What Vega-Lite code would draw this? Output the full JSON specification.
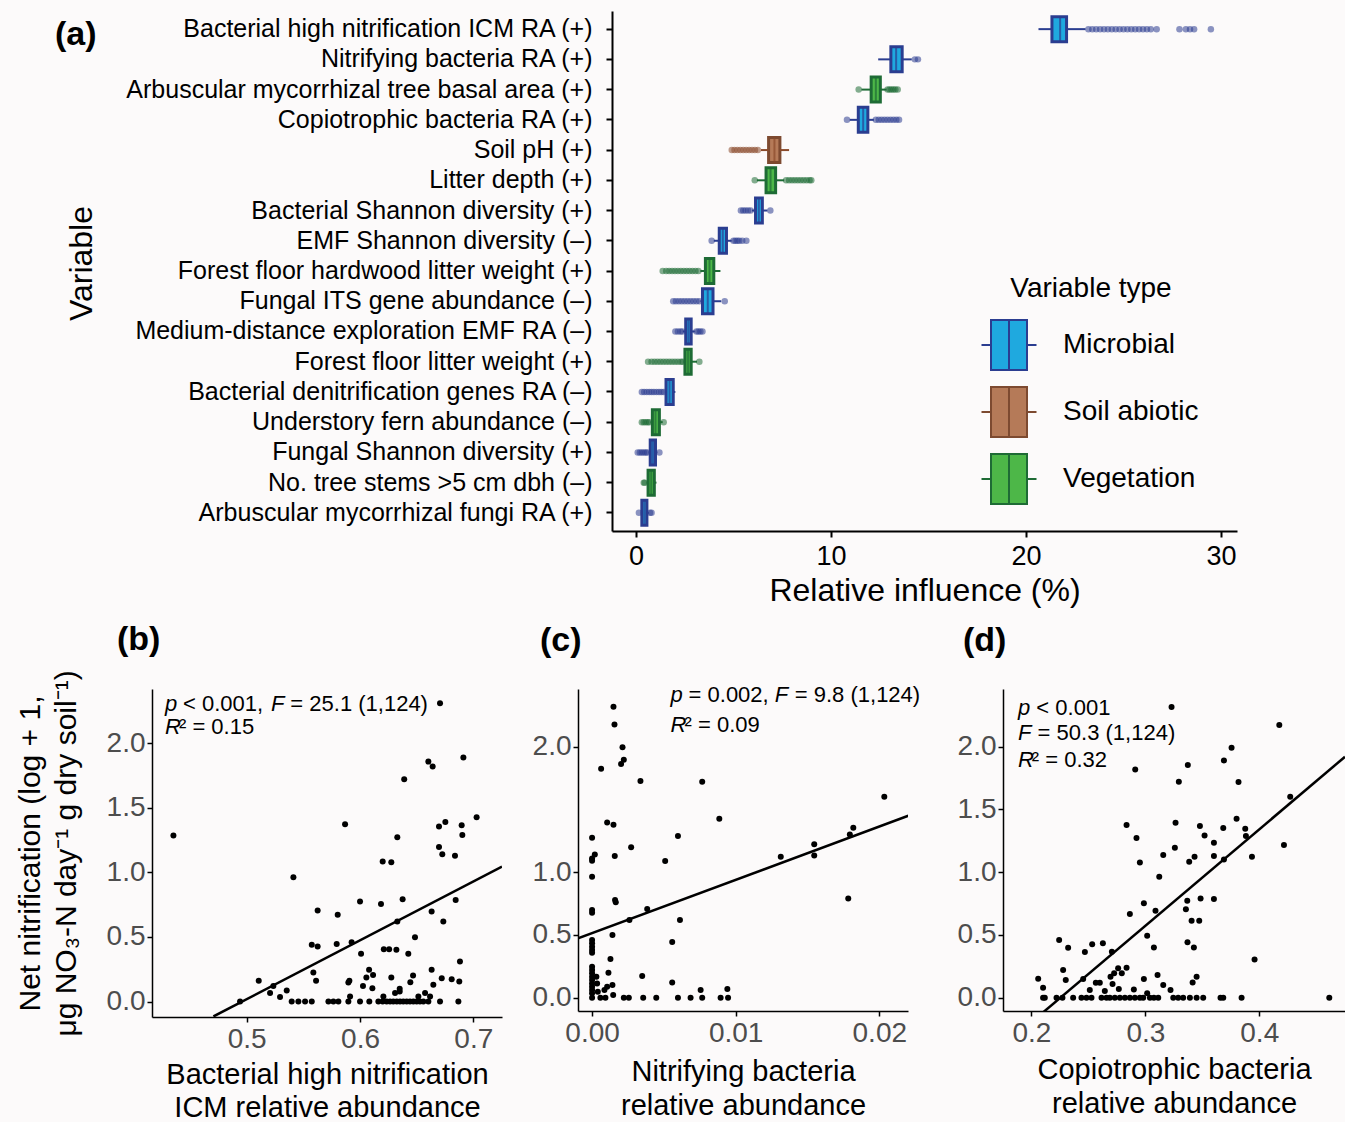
{
  "$schema": "https://vega.github.io/schema/vega-lite/v6.json",
  "background": "#fcfafa",
  "padding": {"left": 15, "top": 11, "right": 0, "bottom": 0},
  "bounds": "flush",
  "spacing": 678,
  "resolve": {"scale": {"fill": "independent", "stroke": "independent", "color": "independent"}, "legend": {"fill": "independent", "stroke": "independent", "color": "independent"}},
  "config": {
    "font": "Liberation Sans",
    "view": {"stroke": null},
    "axis": {"grid": false, "domainColor": "black", "tickColor": "black", "titleFontWeight": "normal", "titleColor": "black"},
    "legend": {"padding": 0}
  },
  "datasets": {
    "boxes": [
      {"k": 1, "var": "Bacterial high nitrification ICM RA (+)", "type": "Microbial", "lo": 20.64, "q1": 21.33, "med": 21.75, "q3": 22.08, "hi": 23.05},
      {"k": 2, "var": "Nitrifying bacteria RA (+)", "type": "Microbial", "lo": 12.42, "q1": 13.07, "med": 13.34, "q3": 13.65, "hi": 14.14},
      {"k": 3, "var": "Arbuscular mycorrhizal tree basal area (+)", "type": "Vegetation", "lo": 11.56, "q1": 12.06, "med": 12.3, "q3": 12.53, "hi": 12.85},
      {"k": 4, "var": "Copiotrophic bacteria RA (+)", "type": "Microbial", "lo": 10.96, "q1": 11.4, "med": 11.65, "q3": 11.89, "hi": 12.2},
      {"k": 5, "var": "Soil pH (+)", "type": "Soil abiotic", "lo": 6.41, "q1": 6.8, "med": 7.1, "q3": 7.38, "hi": 7.85},
      {"k": 6, "var": "Litter depth (+)", "type": "Vegetation", "lo": 6.2, "q1": 6.67, "med": 6.9, "q3": 7.16, "hi": 7.6},
      {"k": 7, "var": "Bacterial Shannon diversity (+)", "type": "Microbial", "lo": 5.95, "q1": 6.13, "med": 6.3, "q3": 6.48, "hi": 6.74},
      {"k": 8, "var": "EMF Shannon diversity (–)", "type": "Microbial", "lo": 3.99, "q1": 4.27, "med": 4.45, "q3": 4.64, "hi": 4.91},
      {"k": 9, "var": "Forest floor hardwood litter weight (+)", "type": "Vegetation", "lo": 3.3, "q1": 3.56, "med": 3.77, "q3": 3.99, "hi": 4.33},
      {"k": 10, "var": "Fungal ITS gene abundance (–)", "type": "Microbial", "lo": 3.3, "q1": 3.41, "med": 3.68, "q3": 3.95, "hi": 4.37},
      {"k": 11, "var": "Medium-distance exploration EMF RA (–)", "type": "Microbial", "lo": 2.4, "q1": 2.55, "med": 2.69, "q3": 2.83, "hi": 3.02},
      {"k": 12, "var": "Forest floor litter weight (+)", "type": "Vegetation", "lo": 2.45, "q1": 2.51, "med": 2.67, "q3": 2.83, "hi": 3.13},
      {"k": 13, "var": "Bacterial denitrification genes RA (–)", "type": "Microbial", "lo": 1.5, "q1": 1.54, "med": 1.72, "q3": 1.91, "hi": 2.02},
      {"k": 14, "var": "Understory fern abundance (–)", "type": "Vegetation", "lo": 0.75, "q1": 0.84, "med": 1.0, "q3": 1.2, "hi": 1.37},
      {"k": 15, "var": "Fungal Shannon diversity (+)", "type": "Microbial", "lo": 0.65, "q1": 0.73, "med": 0.87, "q3": 1.0, "hi": 1.1},
      {"k": 16, "var": "No. tree stems >5 cm dbh (–)", "type": "Vegetation", "lo": 0.55, "q1": 0.62, "med": 0.78, "q3": 0.94, "hi": 1.05},
      {"k": 17, "var": "Arbuscular mycorrhizal fungi RA (+)", "type": "Microbial", "lo": 0.25, "q1": 0.3, "med": 0.43, "q3": 0.56, "hi": 0.65}
    ],
    "outliers": [
      {"k": 1, "v": 23.2}, {"k": 1, "v": 23.4}, {"k": 1, "v": 23.6}, {"k": 1, "v": 23.8}, {"k": 1, "v": 24.0}, {"k": 1, "v": 24.2}, {"k": 1, "v": 24.4}, {"k": 1, "v": 24.6}, {"k": 1, "v": 24.8}, {"k": 1, "v": 25.0}, {"k": 1, "v": 25.2}, {"k": 1, "v": 25.4}, {"k": 1, "v": 25.6}, {"k": 1, "v": 25.8}, {"k": 1, "v": 26.0}, {"k": 1, "v": 26.2}, {"k": 1, "v": 26.4}, {"k": 1, "v": 26.7}, {"k": 1, "v": 27.87}, {"k": 1, "v": 28.2}, {"k": 1, "v": 28.41}, {"k": 1, "v": 28.62}, {"k": 1, "v": 29.48},
      {"k": 2, "v": 14.3}, {"k": 2, "v": 14.46},
      {"k": 3, "v": 11.42}, {"k": 3, "v": 12.9}, {"k": 3, "v": 13.0}, {"k": 3, "v": 13.1}, {"k": 3, "v": 13.2}, {"k": 3, "v": 13.3}, {"k": 3, "v": 13.42},
      {"k": 4, "v": 10.82}, {"k": 4, "v": 12.3}, {"k": 4, "v": 12.45}, {"k": 4, "v": 12.6}, {"k": 4, "v": 12.75}, {"k": 4, "v": 12.9}, {"k": 4, "v": 13.05}, {"k": 4, "v": 13.2}, {"k": 4, "v": 13.35}, {"k": 4, "v": 13.49},
      {"k": 5, "v": 4.91}, {"k": 5, "v": 5.05}, {"k": 5, "v": 5.2}, {"k": 5, "v": 5.35}, {"k": 5, "v": 5.5}, {"k": 5, "v": 5.65}, {"k": 5, "v": 5.8}, {"k": 5, "v": 5.95}, {"k": 5, "v": 6.1}, {"k": 5, "v": 6.25},
      {"k": 6, "v": 6.09}, {"k": 6, "v": 7.7}, {"k": 6, "v": 7.85}, {"k": 6, "v": 8.0}, {"k": 6, "v": 8.15}, {"k": 6, "v": 8.3}, {"k": 6, "v": 8.45}, {"k": 6, "v": 8.6}, {"k": 6, "v": 8.75}, {"k": 6, "v": 8.9}, {"k": 6, "v": 8.99},
      {"k": 7, "v": 5.38}, {"k": 7, "v": 5.5}, {"k": 7, "v": 5.62}, {"k": 7, "v": 5.75}, {"k": 7, "v": 5.88}, {"k": 7, "v": 6.89},
      {"k": 8, "v": 3.88}, {"k": 8, "v": 5.0}, {"k": 8, "v": 5.1}, {"k": 8, "v": 5.2}, {"k": 8, "v": 5.3}, {"k": 8, "v": 5.45}, {"k": 8, "v": 5.66},
      {"k": 9, "v": 1.37}, {"k": 9, "v": 1.55}, {"k": 9, "v": 1.7}, {"k": 9, "v": 1.85}, {"k": 9, "v": 2.0}, {"k": 9, "v": 2.15}, {"k": 9, "v": 2.3}, {"k": 9, "v": 2.45}, {"k": 9, "v": 2.6}, {"k": 9, "v": 2.75}, {"k": 9, "v": 2.9}, {"k": 9, "v": 3.05}, {"k": 9, "v": 3.2},
      {"k": 10, "v": 1.91}, {"k": 10, "v": 2.05}, {"k": 10, "v": 2.2}, {"k": 10, "v": 2.35}, {"k": 10, "v": 2.5}, {"k": 10, "v": 2.65}, {"k": 10, "v": 2.8}, {"k": 10, "v": 2.95}, {"k": 10, "v": 3.1}, {"k": 10, "v": 3.25}, {"k": 10, "v": 4.55},
      {"k": 11, "v": 2.02}, {"k": 11, "v": 2.15}, {"k": 11, "v": 2.28}, {"k": 11, "v": 2.38}, {"k": 11, "v": 3.1}, {"k": 11, "v": 3.2}, {"k": 11, "v": 3.3}, {"k": 11, "v": 3.41},
      {"k": 12, "v": 0.62}, {"k": 12, "v": 0.8}, {"k": 12, "v": 0.95}, {"k": 12, "v": 1.1}, {"k": 12, "v": 1.25}, {"k": 12, "v": 1.4}, {"k": 12, "v": 1.55}, {"k": 12, "v": 1.7}, {"k": 12, "v": 1.85}, {"k": 12, "v": 2.0}, {"k": 12, "v": 2.15}, {"k": 12, "v": 2.3}, {"k": 12, "v": 2.4}, {"k": 12, "v": 3.25},
      {"k": 13, "v": 0.3}, {"k": 13, "v": 0.42}, {"k": 13, "v": 0.55}, {"k": 13, "v": 0.68}, {"k": 13, "v": 0.8}, {"k": 13, "v": 0.92}, {"k": 13, "v": 1.05}, {"k": 13, "v": 1.18}, {"k": 13, "v": 1.3}, {"k": 13, "v": 1.42},
      {"k": 14, "v": 0.3}, {"k": 14, "v": 0.4}, {"k": 14, "v": 0.5}, {"k": 14, "v": 0.6}, {"k": 14, "v": 0.68}, {"k": 14, "v": 1.42},
      {"k": 15, "v": 0.09}, {"k": 15, "v": 0.2}, {"k": 15, "v": 0.3}, {"k": 15, "v": 0.4}, {"k": 15, "v": 0.5}, {"k": 15, "v": 0.58}, {"k": 15, "v": 1.2},
      {"k": 16, "v": 0.4}, {"k": 16, "v": 0.45},
      {"k": 17, "v": 0.15}, {"k": 17, "v": 0.72}, {"k": 17, "v": 0.8}
    ],
    "ptsB": [
      {"x": 0.4353, "y": 1.285}, {"x": 0.6706, "y": 2.31}, {"x": 0.6912, "y": 1.89}, {"x": 0.6603, "y": 1.858}, {"x": 0.6641, "y": 1.819}, {"x": 0.639, "y": 1.721}, {"x": 0.5868, "y": 1.373}, {"x": 0.6753, "y": 1.391}, {"x": 0.6697, "y": 1.355}, {"x": 0.6897, "y": 1.365}, {"x": 0.7029, "y": 1.427}, {"x": 0.6903, "y": 1.29}, {"x": 0.6329, "y": 1.272}, {"x": 0.6697, "y": 1.197}, {"x": 0.6726, "y": 1.141}, {"x": 0.6838, "y": 1.128}, {"x": 0.62, "y": 1.084}, {"x": 0.6276, "y": 1.079}, {"x": 0.5412, "y": 0.963}, {"x": 0.5626, "y": 0.705}, {"x": 0.5803, "y": 0.671}, {"x": 0.6, "y": 0.774}, {"x": 0.6185, "y": 0.756}, {"x": 0.6376, "y": 0.792}, {"x": 0.6632, "y": 0.697}, {"x": 0.6844, "y": 0.787}, {"x": 0.6735, "y": 0.619}, {"x": 0.6329, "y": 0.619}, {"x": 0.5574, "y": 0.439}, {"x": 0.5626, "y": 0.426}, {"x": 0.5794, "y": 0.446}, {"x": 0.5926, "y": 0.459}, {"x": 0.6009, "y": 0.369}, {"x": 0.621, "y": 0.405}, {"x": 0.6257, "y": 0.405}, {"x": 0.6321, "y": 0.4}, {"x": 0.6485, "y": 0.498}, {"x": 0.6426, "y": 0.369}, {"x": 0.6882, "y": 0.31}, {"x": 0.5588, "y": 0.225}, {"x": 0.5612, "y": 0.16}, {"x": 0.5906, "y": 0.16}, {"x": 0.5897, "y": 0.147}, {"x": 0.608, "y": 0.245}, {"x": 0.6056, "y": 0.186}, {"x": 0.6115, "y": 0.206}, {"x": 0.6026, "y": 0.121}, {"x": 0.6109, "y": 0.103}, {"x": 0.6276, "y": 0.186}, {"x": 0.635, "y": 0.098}, {"x": 0.6468, "y": 0.201}, {"x": 0.6444, "y": 0.15}, {"x": 0.6632, "y": 0.245}, {"x": 0.6721, "y": 0.181}, {"x": 0.6809, "y": 0.173}, {"x": 0.6876, "y": 0.155}, {"x": 0.6647, "y": 0.129}, {"x": 0.6574, "y": 0.065}, {"x": 0.5106, "y": 0.16}, {"x": 0.5206, "y": 0.065}, {"x": 0.5235, "y": 0.121}, {"x": 0.5294, "y": 0.034}, {"x": 0.5353, "y": 0.085}, {"x": 0.4941, "y": 0}, {"x": 0.5912, "y": 0.039}, {"x": 0.6206, "y": 0.039}, {"x": 0.6309, "y": 0.065}, {"x": 0.635, "y": 0.077}, {"x": 0.6515, "y": 0.039}, {"x": 0.6618, "y": 0.039},
      {"x": 0.5397, "y": 0}, {"x": 0.5456, "y": 0}, {"x": 0.5515, "y": 0}, {"x": 0.5574, "y": 0}, {"x": 0.5721, "y": 0}, {"x": 0.5765, "y": 0}, {"x": 0.5809, "y": 0}, {"x": 0.5897, "y": 0}, {"x": 0.6, "y": 0}, {"x": 0.6082, "y": 0}, {"x": 0.6162, "y": 0}, {"x": 0.62, "y": 0}, {"x": 0.6235, "y": 0}, {"x": 0.6265, "y": 0}, {"x": 0.6294, "y": 0}, {"x": 0.6324, "y": 0}, {"x": 0.6353, "y": 0}, {"x": 0.6382, "y": 0}, {"x": 0.6412, "y": 0}, {"x": 0.6441, "y": 0}, {"x": 0.6471, "y": 0}, {"x": 0.65, "y": 0}, {"x": 0.6529, "y": 0}, {"x": 0.6559, "y": 0}, {"x": 0.6603, "y": 0}, {"x": 0.6706, "y": 0}, {"x": 0.6868, "y": 0}
    ],
    "ptsC": [
      {"x": 0.00149, "y": 2.319}, {"x": 0.00156, "y": 2.178}, {"x": 0.00212, "y": 1.995}, {"x": 0.00221, "y": 1.896}, {"x": 0.00202, "y": 1.862}, {"x": 0.00063, "y": 1.825}, {"x": 0.00337, "y": 1.726}, {"x": 0.00767, "y": 1.721}, {"x": 0.02035, "y": 1.602}, {"x": 0.00886, "y": 1.426}, {"x": 0.00105, "y": 1.397}, {"x": 0.00149, "y": 1.378}, {"x": 0.01819, "y": 1.355}, {"x": 0.01795, "y": 1.301}, {"x": 0.00598, "y": 1.288}, {"x": 0.0, "y": 1.275}, {"x": 0.00272, "y": 1.198}, {"x": 0.01547, "y": 1.222}, {"x": 0.01547, "y": 1.134}, {"x": 0.00019, "y": 1.142}, {"x": 0.0, "y": 1.11}, {"x": 0.0, "y": 1.092}, {"x": 0.00158, "y": 1.129}, {"x": 0.00509, "y": 1.089}, {"x": 0.01314, "y": 1.124}, {"x": 0.0, "y": 0.964}, {"x": 0.01784, "y": 0.791}, {"x": 0.0016, "y": 0.778}, {"x": 0.00165, "y": 0.76}, {"x": 0.0, "y": 0.699}, {"x": 0.0, "y": 0.677}, {"x": 0.00384, "y": 0.706}, {"x": 0.0026, "y": 0.619}, {"x": 0.00612, "y": 0.619}, {"x": 0.00142, "y": 0.499}, {"x": 0.00558, "y": 0.444},
      {"x": 0.0, "y": 0.459}, {"x": 0.0, "y": 0.433}, {"x": 0.0, "y": 0.406}, {"x": 0.0, "y": 0.38}, {"x": 0.0, "y": 0.359}, {"x": 0.00128, "y": 0.308}, {"x": 0.00114, "y": 0.199}, {"x": 0.00349, "y": 0.173}, {"x": 0.00558, "y": 0.122}, {"x": 0.00142, "y": 0.101}, {"x": 0.00756, "y": 0.061}, {"x": 0.00942, "y": 0.069},
      {"x": 0.0, "y": 0.247}, {"x": 0.0, "y": 0.22}, {"x": 0.0, "y": 0.194}, {"x": 0.0, "y": 0.167}, {"x": 0.0, "y": 0.141}, {"x": 0.0, "y": 0.114}, {"x": 0.0, "y": 0.088}, {"x": 0.0, "y": 0.061}, {"x": 0.0, "y": 0.035}, {"x": 0.0, "y": 0.0}, {"x": 0.0003, "y": 0.167}, {"x": 0.00035, "y": 0.114}, {"x": 0.0004, "y": 0.048}, {"x": 0.00086, "y": 0.061}, {"x": 0.00105, "y": 0.088}, {"x": 0.00147, "y": 0.021},
      {"x": 0.00058, "y": 0}, {"x": 0.00093, "y": 0}, {"x": 0.00221, "y": 0}, {"x": 0.00256, "y": 0}, {"x": 0.00356, "y": 0}, {"x": 0.00447, "y": 0}, {"x": 0.00598, "y": 0}, {"x": 0.00686, "y": 0}, {"x": 0.00767, "y": 0}, {"x": 0.00895, "y": 0}, {"x": 0.00947, "y": 0}
    ],
    "ptsD": [
      {"x": 0.323, "y": 2.316}, {"x": 0.4176, "y": 2.173}, {"x": 0.3757, "y": 1.992}, {"x": 0.369, "y": 1.891}, {"x": 0.3373, "y": 1.854}, {"x": 0.2911, "y": 1.819}, {"x": 0.3294, "y": 1.721}, {"x": 0.3818, "y": 1.718}, {"x": 0.4272, "y": 1.602}, {"x": 0.2835, "y": 1.376}, {"x": 0.3265, "y": 1.394}, {"x": 0.3479, "y": 1.368}, {"x": 0.3801, "y": 1.426}, {"x": 0.3684, "y": 1.352}, {"x": 0.3877, "y": 1.347}, {"x": 0.2922, "y": 1.272}, {"x": 0.352, "y": 1.293}, {"x": 0.3602, "y": 1.235}, {"x": 0.3883, "y": 1.288}, {"x": 0.4217, "y": 1.216}, {"x": 0.3259, "y": 1.195}, {"x": 0.3157, "y": 1.137}, {"x": 0.3432, "y": 1.124}, {"x": 0.3385, "y": 1.084}, {"x": 0.2952, "y": 1.078}, {"x": 0.3602, "y": 1.129}, {"x": 0.369, "y": 1.102}, {"x": 0.3936, "y": 1.124}, {"x": 0.3122, "y": 0.964}, {"x": 0.3602, "y": 0.786}, {"x": 0.2987, "y": 0.752}, {"x": 0.3368, "y": 0.773}, {"x": 0.3485, "y": 0.791}, {"x": 0.3089, "y": 0.693}, {"x": 0.3356, "y": 0.704}, {"x": 0.2864, "y": 0.667}, {"x": 0.3406, "y": 0.614}, {"x": 0.3473, "y": 0.614}, {"x": 0.3016, "y": 0.494}, {"x": 0.337, "y": 0.441}, {"x": 0.3075, "y": 0.401}, {"x": 0.3426, "y": 0.401}, {"x": 0.3959, "y": 0.305},
      {"x": 0.2243, "y": 0.459}, {"x": 0.2322, "y": 0.398}, {"x": 0.2469, "y": 0.364}, {"x": 0.2533, "y": 0.425}, {"x": 0.2627, "y": 0.433}, {"x": 0.2706, "y": 0.367}, {"x": 0.2059, "y": 0.151}, {"x": 0.2102, "y": 0.08}, {"x": 0.2278, "y": 0.22}, {"x": 0.2301, "y": 0.141}, {"x": 0.2454, "y": 0.149}, {"x": 0.2512, "y": 0.061}, {"x": 0.2565, "y": 0.12}, {"x": 0.26, "y": 0.12}, {"x": 0.2644, "y": 0.053}, {"x": 0.2694, "y": 0.167}, {"x": 0.2712, "y": 0.109}, {"x": 0.2726, "y": 0.194}, {"x": 0.2761, "y": 0.234}, {"x": 0.2793, "y": 0.194}, {"x": 0.2835, "y": 0.239}, {"x": 0.2767, "y": 0.069}, {"x": 0.2899, "y": 0.066}, {"x": 0.2987, "y": 0.149}, {"x": 0.3107, "y": 0.181}, {"x": 0.3157, "y": 0.101}, {"x": 0.3221, "y": 0.061}, {"x": 0.3415, "y": 0.122}, {"x": 0.345, "y": 0.167}, {"x": 0.3016, "y": 0.035},
      {"x": 0.2102, "y": 0}, {"x": 0.2117, "y": 0}, {"x": 0.222, "y": 0}, {"x": 0.2272, "y": 0}, {"x": 0.2366, "y": 0}, {"x": 0.2439, "y": 0}, {"x": 0.2483, "y": 0}, {"x": 0.2527, "y": 0}, {"x": 0.2615, "y": 0}, {"x": 0.2659, "y": 0}, {"x": 0.2688, "y": 0}, {"x": 0.2732, "y": 0}, {"x": 0.2776, "y": 0}, {"x": 0.282, "y": 0}, {"x": 0.2864, "y": 0}, {"x": 0.2908, "y": 0}, {"x": 0.2952, "y": 0}, {"x": 0.2981, "y": 0}, {"x": 0.304, "y": 0}, {"x": 0.3075, "y": 0}, {"x": 0.3113, "y": 0}, {"x": 0.3245, "y": 0}, {"x": 0.3288, "y": 0}, {"x": 0.3332, "y": 0}, {"x": 0.3391, "y": 0}, {"x": 0.345, "y": 0}, {"x": 0.3508, "y": 0}, {"x": 0.366, "y": 0}, {"x": 0.3684, "y": 0}, {"x": 0.3845, "y": 0}, {"x": 0.4615, "y": 0}
    ],
    "lines": [
      {"panel": "b", "x": 0.4706, "y": -0.116}, {"panel": "b", "x": 0.7253, "y": 1.045},
      {"panel": "c", "x": -0.00098, "y": 0.473}, {"panel": "c", "x": 0.02202, "y": 1.45},
      {"panel": "d", "x": 0.2102, "y": -0.117}, {"panel": "d", "x": 0.4753, "y": 1.92}
    ],
    "ann": [
      {"panel": "b", "part": "sym", "x": 0.4279, "y": 2.304, "t": "p"},
      {"panel": "b", "part": "val", "x": 0.4438, "y": 2.304, "t": "< 0.001,"},
      {"panel": "b", "part": "sym", "x": 0.5214, "y": 2.304, "t": "F"},
      {"panel": "b", "part": "val", "x": 0.5385, "y": 2.304, "t": "= 25.1 (1,124)"},
      {"panel": "b", "part": "sym", "x": 0.4279, "y": 2.128, "t": "R"},
      {"panel": "b", "part": "val", "x": 0.4402, "y": 2.128, "t": "² = 0.15"},
      {"panel": "c", "part": "sym", "x": 0.005464, "y": 2.412, "t": "p"},
      {"panel": "c", "part": "val", "x": 0.00672, "y": 2.412, "t": "= 0.002,"},
      {"panel": "c", "part": "sym", "x": 0.012722, "y": 2.412, "t": "F"},
      {"panel": "c", "part": "val", "x": 0.014117, "y": 2.412, "t": "= 9.8 (1,124)"},
      {"panel": "c", "part": "sym", "x": 0.005464, "y": 2.173, "t": "R"},
      {"panel": "c", "part": "val", "x": 0.006441, "y": 2.173, "t": "² = 0.09"},
      {"panel": "d", "part": "sym", "x": 0.18823, "y": 2.306, "t": "p"},
      {"panel": "d", "part": "val", "x": 0.2043, "y": 2.306, "t": "< 0.001"},
      {"panel": "d", "part": "sym", "x": 0.18823, "y": 2.107, "t": "F"},
      {"panel": "d", "part": "val", "x": 0.2054, "y": 2.107, "t": "= 50.3 (1,124)"},
      {"panel": "d", "part": "sym", "x": 0.18823, "y": 1.894, "t": "R"},
      {"panel": "d", "part": "val", "x": 0.2003, "y": 1.894, "t": "² = 0.32"}
    ]
  },
  "vconcat": [
    {
      "bounds": "flush",
      "spacing": 0,
      "resolve": {"scale": {"fill": "independent", "stroke": "independent", "color": "independent"}, "legend": {"fill": "independent", "stroke": "independent", "color": "independent"}},
      "hconcat": [
        {"width": 460, "height": 520, "data": {"values": [{"a": 0}]}, "mark": {"type": "text", "text": ""}, "encoding": {}},
        {
          "width": 625,
          "height": 520,
          "title": {"text": "(a)", "anchor": "start", "frame": "group", "orient": "top", "fontSize": 34, "fontWeight": "bold", "color": "black", "baseline": "alphabetic", "offset": 0, "dx": -557, "dy": 68},
          "layer": [
            {
              "data": {"name": "boxes"},
              "mark": {"type": "bar", "size": 25, "strokeWidth": 3},
              "encoding": {
                "y": {"field": "var", "type": "nominal", "title": "Variable",
                  "scale": {"domain": ["Bacterial high nitrification ICM RA (+)", "Nitrifying bacteria RA (+)", "Arbuscular mycorrhizal tree basal area (+)", "Copiotrophic bacteria RA (+)", "Soil pH (+)", "Litter depth (+)", "Bacterial Shannon diversity (+)", "EMF Shannon diversity (–)", "Forest floor hardwood litter weight (+)", "Fungal ITS gene abundance (–)", "Medium-distance exploration EMF RA (–)", "Forest floor litter weight (+)", "Bacterial denitrification genes RA (–)", "Understory fern abundance (–)", "Fungal Shannon diversity (+)", "No. tree stems >5 cm dbh (–)", "Arbuscular mycorrhizal fungi RA (+)"], "paddingInner": 0, "paddingOuter": 0.1},
                  "axis": {"labelFontSize": 25, "labelColor": "black", "labelPadding": 14, "labelLimit": 0, "tickSize": 6, "tickWidth": 2, "domainWidth": 2, "titleFontSize": 32, "titleX": -514, "titleY": 252}},
                "x": {"field": "q1", "type": "quantitative", "title": "Relative influence (%)",
                  "scale": {"domain": [-1.23, 30.82], "nice": false, "zero": false},
                  "axis": {"values": [0, 10, 20, 30], "labelFontSize": 27, "labelColor": "black", "labelPadding": 6, "tickSize": 6, "tickWidth": 2, "domainWidth": 2, "titleFontSize": 32, "titlePadding": 6}},
                "x2": {"field": "q3"},
                "fill": {"field": "type", "type": "nominal", "title": "Variable type",
                  "scale": {"domain": ["Microbial", "Soil abiotic", "Vegetation"], "range": ["#1fa9df", "#b57a58", "#4db748"]},
                  "legend": {"orient": "none", "legendX": 371, "legendY": 264, "symbolType": "M-0.72,-1H0.72V1H-0.72Z M0,-1V1 M-1.1,0H-0.72 M0.72,0H1.1", "symbolSize": 2500, "symbolStrokeWidth": 2, "labelFontSize": 28, "labelColor": "black", "labelOffset": 28, "titleFontSize": 28, "titleFontWeight": "normal", "titleColor": "black", "titleAnchor": "middle", "titlePadding": 16, "rowPadding": 9}},
                "stroke": {"field": "type", "type": "nominal", "title": "Variable type",
                  "scale": {"domain": ["Microbial", "Soil abiotic", "Vegetation"], "range": ["#2b3d90", "#7d4a30", "#1e6b35"]},
                  "legend": {"orient": "none", "legendX": 371, "legendY": 264, "symbolType": "M-0.72,-1H0.72V1H-0.72Z M0,-1V1 M-1.1,0H-0.72 M0.72,0H1.1", "symbolSize": 2500, "symbolStrokeWidth": 2, "labelFontSize": 28, "labelColor": "black", "labelOffset": 28, "titleFontSize": 28, "titleFontWeight": "normal", "titleColor": "black", "titleAnchor": "middle", "titlePadding": 16, "rowPadding": 9}}
              }
            },
            {
              "data": {"name": "boxes"},
              "mark": {"type": "rule", "strokeWidth": 2},
              "encoding": {
                "y": {"field": "var", "type": "nominal"},
                "x": {"field": "lo", "type": "quantitative"},
                "x2": {"field": "q1"},
                "color": {"field": "type", "type": "nominal", "legend": null, "scale": {"domain": ["Vegetation", "Soil abiotic", "Microbial"], "range": ["#1e6b35", "#8a4a2b", "#2b3d90"]}}
              }
            },
            {
              "data": {"name": "boxes"},
              "mark": {"type": "rule", "strokeWidth": 2},
              "encoding": {
                "y": {"field": "var", "type": "nominal"},
                "x": {"field": "q3", "type": "quantitative"},
                "x2": {"field": "hi"},
                "color": {"field": "type", "type": "nominal", "legend": null}
              }
            },
            {
              "data": {"name": "boxes"},
              "mark": {"type": "tick", "size": 25, "thickness": 2},
              "encoding": {
                "y": {"field": "var", "type": "nominal"},
                "x": {"field": "med", "type": "quantitative"},
                "color": {"field": "type", "type": "nominal", "legend": null}
              }
            },
            {
              "data": {"name": "outliers"},
              "transform": [{"lookup": "k", "from": {"data": {"name": "boxes"}, "key": "k", "fields": ["var", "type"]}}],
              "mark": {"type": "circle", "size": 42, "opacity": 0.55},
              "encoding": {
                "y": {"field": "var", "type": "nominal"},
                "x": {"field": "v", "type": "quantitative"},
                "color": {"field": "type", "type": "nominal", "legend": null}
              }
            }
          ]
        }
      ]
    },
    {
      "bounds": "flush",
      "spacing": 76,
      "hconcat": [
        {
          "width": 350,
          "height": 328,
          "title": {"text": "(b)", "anchor": "start", "frame": "group", "orient": "top", "fontSize": 34, "fontWeight": "bold", "color": "black", "baseline": "alphabetic", "offset": 0, "dx": -35, "dy": 14},
          "layer": [
            {
              "data": {"name": "ptsB"},
              "mark": {"type": "circle", "size": 36, "color": "black", "opacity": 1},
              "encoding": {
                "x": {"field": "x", "type": "quantitative", "scale": {"domain": [0.4164, 0.7253], "nice": false, "zero": false},
                  "axis": {"values": [0.5, 0.6, 0.7], "format": ".1f", "title": ["Bacterial high nitrification", "ICM relative abundance"], "labelFontSize": 28, "labelColor": "#4d4d4d", "labelPadding": 3, "tickSize": 5, "tickWidth": 1.5, "domainWidth": 1.5, "titleFontSize": 29, "titleLineHeight": 33, "titlePadding": 7}},
                "y": {"field": "y", "type": "quantitative", "scale": {"domain": [-0.12, 2.42], "nice": false, "zero": false},
                  "axis": {"values": [0, 0.5, 1, 1.5, 2], "format": ".1f", "title": ["Net nitrification (log + 1,", "μg NO₃-N day⁻¹ g dry soil⁻¹)"], "labelFontSize": 28, "labelColor": "#4d4d4d", "labelPadding": 2, "tickSize": 5, "tickWidth": 1.5, "domainWidth": 1.5, "titleFontSize": 30, "titleLineHeight": 36, "titlePadding": 25}}
              }
            },
            {
              "data": {"name": "lines"},
              "transform": [{"filter": "datum.panel === 'b'"}],
              "mark": {"type": "line", "color": "black", "strokeWidth": 2.5, "clip": true},
              "encoding": {"x": {"field": "x", "type": "quantitative"}, "y": {"field": "y", "type": "quantitative"}}
            },
            {
              "data": {"name": "ann"},
              "transform": [{"filter": "datum.panel === 'b' && datum.part === 'sym'"}],
              "mark": {"type": "text", "align": "left", "baseline": "middle", "fontSize": 22, "fontStyle": "italic", "color": "black"},
              "encoding": {"x": {"field": "x", "type": "quantitative"}, "y": {"field": "y", "type": "quantitative"}, "text": {"field": "t"}}
            },
            {
              "data": {"name": "ann"},
              "transform": [{"filter": "datum.panel === 'b' && datum.part === 'val'"}],
              "mark": {"type": "text", "align": "left", "baseline": "middle", "fontSize": 22, "color": "black"},
              "encoding": {"x": {"field": "x", "type": "quantitative"}, "y": {"field": "y", "type": "quantitative"}, "text": {"field": "t"}}
            }
          ]
        },
        {
          "bounds": "flush",
          "spacing": 95,
          "hconcat": [
            {
              "width": 330,
              "height": 322,
              "title": {"text": "(c)", "anchor": "start", "frame": "group", "orient": "top", "fontSize": 34, "fontWeight": "bold", "color": "black", "baseline": "alphabetic", "offset": 0, "dx": -38, "dy": 1},
              "layer": [
                {
                  "data": {"name": "ptsC"},
                  "mark": {"type": "circle", "size": 36, "color": "black", "opacity": 1},
                  "encoding": {
                    "x": {"field": "x", "type": "quantitative", "scale": {"domain": [-0.00098, 0.022], "nice": false, "zero": false},
                      "axis": {"values": [0, 0.01, 0.02], "format": ".2f", "title": ["Nitrifying bacteria", "relative abundance"], "labelFontSize": 28, "labelColor": "#4d4d4d", "labelPadding": 3, "tickSize": 5, "tickWidth": 1.5, "domainWidth": 1.5, "titleFontSize": 29, "titleLineHeight": 34, "titlePadding": 10}},
                    "y": {"field": "y", "type": "quantitative", "scale": {"domain": [-0.106, 2.46], "nice": false, "zero": false},
                      "axis": {"values": [0, 0.5, 1, 2], "format": ".1f", "title": null, "labelFontSize": 28, "labelColor": "#4d4d4d", "labelPadding": 2, "tickSize": 5, "tickWidth": 1.5, "domainWidth": 1.5}}
                  }
                },
                {
                  "data": {"name": "lines"},
                  "transform": [{"filter": "datum.panel === 'c'"}],
                  "mark": {"type": "line", "color": "black", "strokeWidth": 2.5, "clip": true},
                  "encoding": {"x": {"field": "x", "type": "quantitative"}, "y": {"field": "y", "type": "quantitative"}}
                },
                {
                  "data": {"name": "ann"},
                  "transform": [{"filter": "datum.panel === 'c' && datum.part === 'sym'"}],
                  "mark": {"type": "text", "align": "left", "baseline": "middle", "fontSize": 22, "fontStyle": "italic", "color": "black"},
                  "encoding": {"x": {"field": "x", "type": "quantitative"}, "y": {"field": "y", "type": "quantitative"}, "text": {"field": "t"}}
                },
                {
                  "data": {"name": "ann"},
                  "transform": [{"filter": "datum.panel === 'c' && datum.part === 'val'"}],
                  "mark": {"type": "text", "align": "left", "baseline": "middle", "fontSize": 22, "color": "black"},
                  "encoding": {"x": {"field": "x", "type": "quantitative"}, "y": {"field": "y", "type": "quantitative"}, "text": {"field": "t"}}
                }
              ]
            },
            {
              "width": 342,
              "height": 322,
              "title": {"text": "(d)", "anchor": "start", "frame": "group", "orient": "top", "fontSize": 34, "fontWeight": "bold", "color": "black", "baseline": "alphabetic", "offset": 0, "dx": -40, "dy": -4},
              "layer": [
                {
                  "data": {"name": "ptsD"},
                  "mark": {"type": "circle", "size": 36, "color": "black", "opacity": 1},
                  "encoding": {
                    "x": {"field": "x", "type": "quantitative", "scale": {"domain": [0.175, 0.4753], "nice": false, "zero": false},
                      "axis": {"values": [0.2, 0.3, 0.4], "format": ".1f", "title": ["Copiotrophic bacteria", "relative abundance"], "labelFontSize": 28, "labelColor": "#4d4d4d", "labelPadding": 3, "tickSize": 5, "tickWidth": 1.5, "domainWidth": 1.5, "titleFontSize": 29, "titleLineHeight": 34, "titlePadding": 8}},
                    "y": {"field": "y", "type": "quantitative", "scale": {"domain": [-0.106, 2.46], "nice": false, "zero": false},
                      "axis": {"values": [0, 0.5, 1, 1.5, 2], "format": ".1f", "title": null, "labelFontSize": 28, "labelColor": "#4d4d4d", "labelPadding": 2, "tickSize": 5, "tickWidth": 1.5, "domainWidth": 1.5}}
                  }
                },
                {
                  "data": {"name": "lines"},
                  "transform": [{"filter": "datum.panel === 'd'"}],
                  "mark": {"type": "line", "color": "black", "strokeWidth": 2.5, "clip": true},
                  "encoding": {"x": {"field": "x", "type": "quantitative"}, "y": {"field": "y", "type": "quantitative"}}
                },
                {
                  "data": {"name": "ann"},
                  "transform": [{"filter": "datum.panel === 'd' && datum.part === 'sym'"}],
                  "mark": {"type": "text", "align": "left", "baseline": "middle", "fontSize": 22, "fontStyle": "italic", "color": "black"},
                  "encoding": {"x": {"field": "x", "type": "quantitative"}, "y": {"field": "y", "type": "quantitative"}, "text": {"field": "t"}}
                },
                {
                  "data": {"name": "ann"},
                  "transform": [{"filter": "datum.panel === 'd' && datum.part === 'val'"}],
                  "mark": {"type": "text", "align": "left", "baseline": "middle", "fontSize": 22, "color": "black"},
                  "encoding": {"x": {"field": "x", "type": "quantitative"}, "y": {"field": "y", "type": "quantitative"}, "text": {"field": "t"}}
                }
              ]
            }
          ]
        }
      ]
    }
  ]
}
